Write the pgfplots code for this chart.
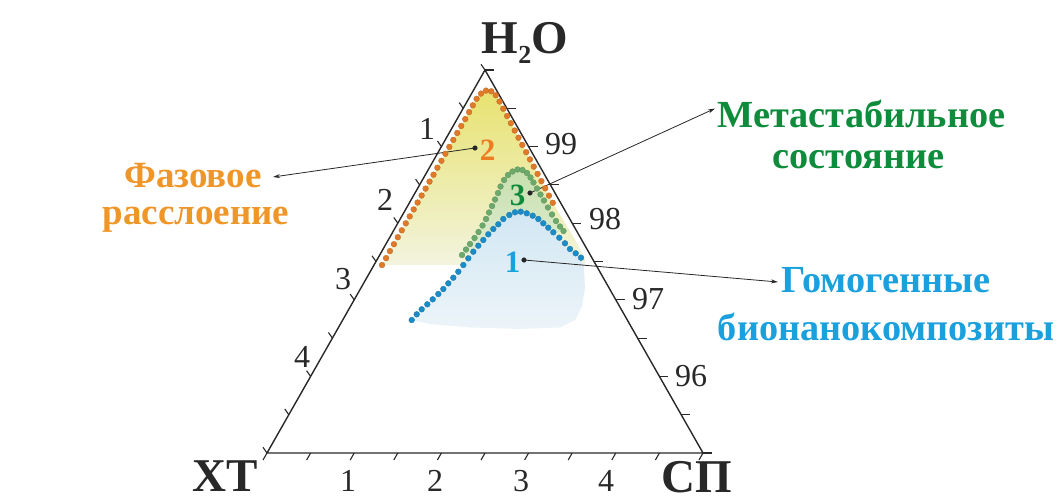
\documentclass[border=0pt]{standalone}
\usepackage{fontspec}
\setmainfont{Liberation Serif}
\usepackage{pgfplots}
\pgfplotsset{compat=1.18}
\usetikzlibrary{arrows.meta}

\definecolor{odot}{RGB}{224,122,40}
\definecolor{gdot}{RGB}{108,170,108}
\definecolor{bdot}{RGB}{28,140,200}
\definecolor{otext}{RGB}{240,150,40}
\definecolor{otwo}{RGB}{236,125,34}
\definecolor{gtext}{RGB}{14,140,60}
\definecolor{btext}{RGB}{27,160,222}
\definecolor{yelT}{RGB}{232,226,112}
\definecolor{yelB}{RGB}{242,244,222}
\definecolor{grnT}{RGB}{198,223,172}
\definecolor{grnB}{RGB}{224,237,212}
\definecolor{bluT}{RGB}{210,231,243}
\definecolor{bluB}{RGB}{236,244,249}
\definecolor{edge}{RGB}{40,40,40}

\begin{document}
\begin{tikzpicture}
\begin{axis}[
  scale only axis, width=1059pt, height=503pt,
  xmin=0, xmax=1059, ymin=0, ymax=503, y dir=reverse,
  axis lines=none, clip=false, unbounded coords=jump,
]
% ---------- shaded regions ----------
\addplot[draw=none, top color=yelT, bottom color=yelB] coordinates {
(382.0,265.0) (386.0,258.1) (389.9,251.1) (393.9,244.2) (397.8,237.2) (401.8,230.3) (405.8,223.3) (409.7,216.4) (413.7,209.4) (417.6,202.5) (421.6,195.5) (425.6,188.6) (429.5,181.6) (433.5,174.7) (437.4,167.7) (441.4,160.8) (445.4,153.8) (449.3,146.9) (453.3,139.9) (457.2,133.0) (461.2,126.0) (465.2,119.1) (469.1,112.1) (472.8,105.3) (476.6,98.8) (481,93.6) (486,90.6) (491.3,91.3) (495.8,95.2)
(499.5,101.5) (503.3,108.7) (507.1,116.0) (510.9,123.2) (514.7,130.5) (518.5,137.7) (522.3,144.9) (526.2,152.2) (530.0,159.4) (533.8,166.6) (537.6,173.9) (541.4,181.1) (545.2,188.3) (549.0,195.6) (552.8,202.8)
(562,218) (574,238) (585,258) (585,265) (382,265)} -- cycle;

\addplot[draw=none, top color=grnT, bottom color=grnB] coordinates {
(462,255) (466,249.5) (470,244) (474.5,238) (478.5,232) (482.5,225.5) (486,219) (489,212.5) (492,206) (495,199.5) (498,193) (500.5,186.5) (504,180) (508,175) (512.5,171.5) (517.5,169.5) (522.5,170) (527,173) (530.5,177.5) (533.5,182.5) (537,188.5) (540.5,194.5) (544,200.5) (548,207.5) (552,214.5) (556,221) (560,226.5) (563.5,231)} -- cycle;

\addplot[draw=none, top color=bluT, bottom color=bluB] coordinates {
(411.7,320) (416.7,314.3) (421.7,309.3) (427.3,304.3) (432.7,299.3) (438.3,294) (443.3,289) (448.3,283.3) (453.3,277.7) (458.3,271.7) (463.3,265) (468.3,258.3) (473.3,251.7) (478.3,245.7) (483.3,240) (488.3,234.3) (493.3,229) (498.3,224.3) (503.3,219) (509.3,215) (515,212.3) (520.7,211.7) (526.7,213.3) (532.7,215.7) (538.3,219) (543.3,223.3) (548.3,227.7) (553.3,232.3) (559.3,237.7) (565,243.3) (570,249) (575.7,253.3) (581,257.7)
(584,268) (585,288) (582,306) (575,320) (560,327.5) (520,329) (470,327.5) (430,324)} -- cycle;

% ---------- triangle and ticks ----------
\addplot[edge, line width=1.4pt, line join=miter] coordinates {(485,70) (267,453) (703,453) (485,70)};
\addplot[edge, line width=1.4pt] coordinates {(703,453) (710,453)};
\addplot[edge, line width=1.1pt] coordinates {
(485,70)(481,64.3)(0,nan)
(463.2,108.3)(459.2,102.6)(0,nan)
(441.4,146.6)(437.4,140.9)(0,nan)
(419.6,184.9)(415.6,179.2)(0,nan)
(397.8,223.2)(393.8,217.5)(0,nan)
(376,261.5)(372,255.8)(0,nan)
(354.2,299.8)(350.2,294.1)(0,nan)
(332.4,338.1)(328.4,332.4)(0,nan)
(310.6,376.4)(306.6,370.7)(0,nan)
(288.8,414.7)(284.8,409)(0,nan)
(267,453)(263,447.3)};
\addplot[edge, line width=1.1pt] coordinates {
(485,70)(494,70)(0,nan)
(506.8,108.3)(515.8,108.3)(0,nan)
(528.6,146.6)(537.6,146.6)(0,nan)
(550.4,184.9)(559.4,184.9)(0,nan)
(572.2,223.2)(581.2,223.2)(0,nan)
(594,261.5)(603,261.5)(0,nan)
(615.8,299.8)(624.8,299.8)(0,nan)
(637.6,338.1)(646.6,338.1)(0,nan)
(659.4,376.4)(668.4,376.4)(0,nan)
(681.2,414.7)(690.2,414.7)(0,nan)
(703,453)(712,453)};
\addplot[edge, line width=1.1pt] coordinates {
(267,453)(263,460)(0,nan)
(310.6,453)(306.6,460)(0,nan)
(354.2,453)(350.2,460)(0,nan)
(397.8,453)(393.8,460)(0,nan)
(441.4,453)(437.4,460)(0,nan)
(485,453)(481,460)(0,nan)
(528.6,453)(524.6,460)(0,nan)
(572.2,453)(568.2,460)(0,nan)
(615.8,453)(611.8,460)(0,nan)
(659.4,453)(655.4,460)(0,nan)
(703,453)(699,460)};

% ---------- dotted curves ----------
\addplot[only marks, mark=*, mark size=2.9pt, mark options={fill=odot, draw=odot!85!black, line width=0.3pt}] coordinates {
(382.0,265.0) (386.0,258.1) (389.9,251.1) (393.9,244.2) (397.8,237.2) (401.8,230.3) (405.8,223.3) (409.7,216.4) (413.7,209.4) (417.6,202.5) (421.6,195.5) (425.6,188.6) (429.5,181.6) (433.5,174.7) (437.4,167.7) (441.4,160.8) (445.4,153.8) (449.3,146.9) (453.3,139.9) (457.2,133.0) (461.2,126.0) (465.2,119.1) (469.1,112.1) (472.8,105.3) (476.6,98.8) (481,93.6) (486,90.6) (491.3,91.3) (495.8,95.2)
(499.5,101.5) (503.3,108.7) (507.1,116.0) (510.9,123.2) (514.7,130.5) (518.5,137.7) (522.3,144.9) (526.2,152.2) (530.0,159.4) (533.8,166.6) (537.6,173.9) (541.4,181.1) (545.2,188.3) (549.0,195.6) (552.8,202.8)};

\addplot[only marks, mark=*, mark size=2.9pt, mark options={fill=gdot, draw=gdot!85!black, line width=0.3pt}] coordinates {
(462,255) (466,249.5) (470,244) (474.5,238) (478.5,232) (482.5,225.5) (486,219) (489,212.5) (492,206) (495,199.5) (498,193) (500.5,186.5) (504,180) (508,175) (512.5,171.5) (517.5,169.5) (522.5,170) (527,173) (530.5,177.5) (533.5,182.5) (537,188.5) (540.5,194.5) (544,200.5) (548,207.5) (552,214.5) (556,221) (560,226.5) (563.5,231)};

\addplot[only marks, mark=*, mark size=2.9pt, mark options={fill=bdot, draw=bdot!85!black, line width=0.3pt}] coordinates {
(411.7,320) (416.7,314.3) (421.7,309.3) (427.3,304.3) (432.7,299.3) (438.3,294) (443.3,289) (448.3,283.3) (453.3,277.7) (458.3,271.7) (463.3,265) (468.3,258.3) (473.3,251.7) (478.3,245.7) (483.3,240) (488.3,234.3) (493.3,229) (498.3,224.3) (503.3,219) (509.3,215) (515,212.3) (520.7,211.7) (526.7,213.3) (532.7,215.7) (538.3,219) (543.3,223.3) (548.3,227.7) (553.3,232.3) (559.3,237.7) (565,243.3) (570,249) (575.7,253.3) (581,257.7)};

% ---------- annotation arrows ----------
\addplot[black!85, line width=0.8pt, -{Stealth[length=7pt,width=4pt]}] coordinates {(475,148) (273,177)};
\addplot[black!85, line width=0.8pt, -{Stealth[length=7pt,width=4pt]}] coordinates {(530,193) (715,108.5)};
\addplot[black!85, line width=0.8pt, -{Stealth[length=7pt,width=4pt]}] coordinates {(524,260) (778,282)};
\addplot[only marks, mark=*, mark size=2.3pt, mark options={fill=black!85, draw=black!85}] coordinates {(475,148) (530,193) (524,260)};

% ---------- texts ----------
\node[anchor=base, text=edge, font=\fontsize{32}{32}\selectfont] at (axis cs:427,139) {1};
\node[anchor=base, text=edge, font=\fontsize{32}{32}\selectfont] at (axis cs:385,210) {2};
\node[anchor=base, text=edge, font=\fontsize{32}{32}\selectfont] at (axis cs:343,289) {3};
\node[anchor=base, text=edge, font=\fontsize{32}{32}\selectfont] at (axis cs:302,367) {4};

\node[anchor=base, text=edge, font=\fontsize{32}{32}\selectfont] at (axis cs:561,154) {99};
\node[anchor=base, text=edge, font=\fontsize{32}{32}\selectfont] at (axis cs:605,229) {98};
\node[anchor=base, text=edge, font=\fontsize{32}{32}\selectfont] at (axis cs:648,309) {97};
\node[anchor=base, text=edge, font=\fontsize{32}{32}\selectfont] at (axis cs:691,386) {96};

\node[anchor=base, text=edge, font=\fontsize{32}{32}\selectfont] at (axis cs:348,491) {1};
\node[anchor=base, text=edge, font=\fontsize{32}{32}\selectfont] at (axis cs:435,491) {2};
\node[anchor=base, text=edge, font=\fontsize{32}{32}\selectfont] at (axis cs:521,491) {3};
\node[anchor=base, text=edge, font=\fontsize{32}{32}\selectfont] at (axis cs:606,491) {4};

\node[anchor=base west, inner sep=0pt, text=edge, font=\bfseries\fontsize{47}{47}\selectfont] at (axis cs:481.5,53) {H\raisebox{-10pt}{\fontsize{26}{26}\selectfont 2}O};
\node[anchor=base west, inner sep=0pt, text=edge, font=\bfseries\fontsize{47}{47}\selectfont] at (axis cs:192,491) {ХТ};
\node[anchor=base west, inner sep=0pt, text=edge, font=\bfseries\fontsize{47}{47}\selectfont] at (axis cs:661.5,492) {СП};

\node[anchor=base, text=otwo, font=\bfseries\fontsize{31}{31}\selectfont] at (axis cs:487.5,160) {2};
\node[anchor=base, text=gtext, font=\bfseries\fontsize{31}{31}\selectfont] at (axis cs:517.5,205) {3};
\node[anchor=base, text=btext, font=\bfseries\fontsize{31}{31}\selectfont] at (axis cs:512.5,272) {1};

\node[anchor=base, text=otext, font=\bfseries\fontsize{37}{37}\selectfont] at (axis cs:193,187) {Фазовое};
\node[anchor=base, text=otext, font=\bfseries\fontsize{37}{37}\selectfont] at (axis cs:196,224) {расслоение};
\node[anchor=base, text=gtext, font=\bfseries\fontsize{38.3}{38.3}\selectfont] at (axis cs:861.5,127) {Метастабильное};
\node[anchor=base, text=gtext, font=\bfseries\fontsize{38.3}{38.3}\selectfont] at (axis cs:858.5,168) {состояние};
\node[anchor=base, text=btext, font=\bfseries\fontsize{38.3}{38.3}\selectfont] at (axis cs:886,292) {Гомогенные};
\node[anchor=base, text=btext, font=\bfseries\fontsize{38.3}{38.3}\selectfont] at (axis cs:886,340) {бионанокомпозиты};

\coordinate (bbA) at (axis cs:0,0);
\coordinate (bbB) at (axis cs:1059,503);
\end{axis}
\pgfresetboundingbox
\path[use as bounding box] (bbA) rectangle (bbB);
\end{tikzpicture}
\end{document}
